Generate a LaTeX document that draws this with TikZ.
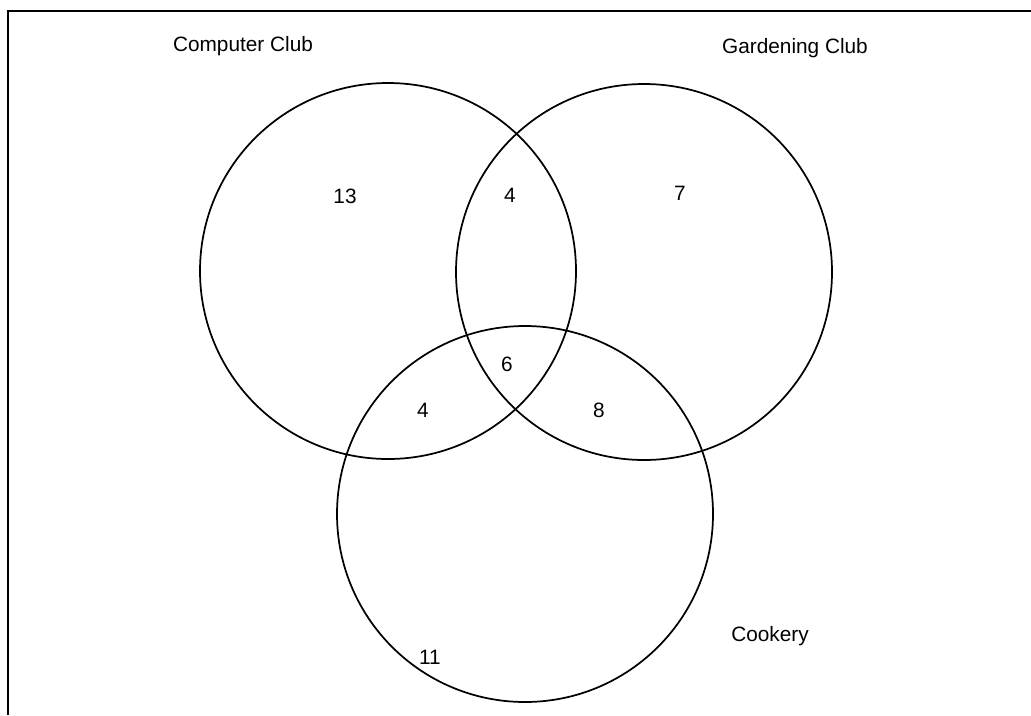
\documentclass[tikz,border=0pt]{standalone}
\usepackage{fontspec}
\setmainfont{Liberation Sans}
\begin{document}
\begin{tikzpicture}[x=0.75pt,y=-0.75pt,
    club/.style={draw,circle,line width=1.3pt,minimum size=376*0.75pt,inner sep=0pt},
    lbl/.style={font=\fontsize{15.6pt}{18pt}\selectfont,inner sep=0pt}]
  \useasboundingbox (0,0) rectangle (1031,715);
  \draw[line width=1.9pt] (8,715) -- (8,11) -- (1031,11);

  \node[club] (computer)  at (388,271) {};
  \node[club] (gardening) at (644,272) {};
  \node[club] (cookery)   at (525,514) {};

  \node[lbl] (computerlbl)  at (243,46) {Computer Club};
  \node[lbl] (gardeninglbl) at (795,48) {Gardening Club};
  \node[lbl] (cookerylbl)   at (770,636) {Cookery};

  \node[lbl] (conly)  at (345,196) {13};
  \node[lbl] (cg)     at (510,195) {4};
  \node[lbl] (gonly)  at (680,193) {7};
  \node[lbl] (cgk)    at (507,364) {6};
  \node[lbl] (ck)     at (423,410) {4};
  \node[lbl] (gk)     at (599,410) {8};
  \node[lbl] (konly)  at (430,657) {11};
\end{tikzpicture}
\end{document}
